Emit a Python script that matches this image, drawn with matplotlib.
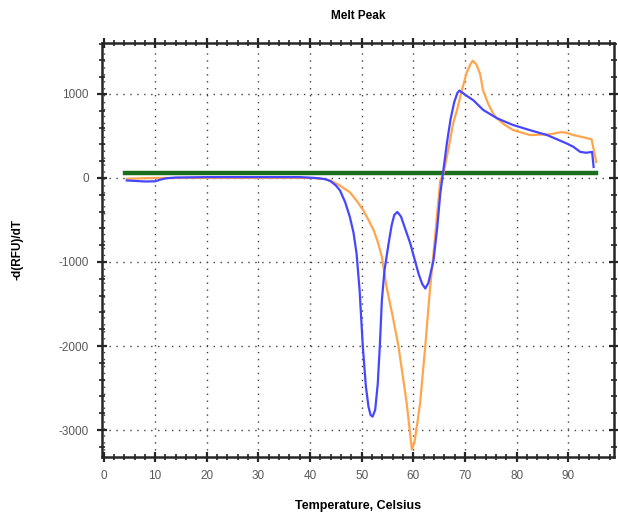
import numpy as np
import matplotlib
matplotlib.use("Agg")
import matplotlib.pyplot as plt
from matplotlib.ticker import MultipleLocator

plt.rcParams['font.family'] = ['Liberation Sans', 'DejaVu Sans']
plt.rcParams['axes.unicode_minus'] = False

# blue trace
blue_t = [4.5, 6, 8, 10, 11, 12, 14, 20, 30, 38, 41, 43, 44, 45, 45.8, 46.8, 47.7,
          48.4, 49.0, 49.6, 50.2, 50.8, 51.3, 51.7, 52.1, 52.6, 53.1, 53.5, 53.9,
          54.4, 55.2, 55.8, 56.3, 56.9, 57.6, 58.5, 59.4, 60.2, 61.0, 61.7, 62.3,
          62.9, 63.9, 64.6, 65.2, 65.8, 66.5, 67.2, 67.9, 68.5, 68.9, 69.6, 70.5,
          71.6, 73.5, 76.2, 79.3, 82.5, 85.9, 89.7, 91.0, 92.3, 93.5, 94.6, 94.9]
blue_v = [-30, -35, -42, -40, -20, -5, 5, 10, 10, 10, 0, -15, -40, -90, -150, -290, -465,
          -650, -900, -1350, -2000, -2480, -2720, -2820, -2840, -2760, -2450, -2000, -1450,
          -1100, -780, -560, -440, -405, -460, -620, -780, -960, -1140, -1260, -1315,
          -1250, -980, -600, -190, 90, 420, 700, 900, 1010, 1040, 1010, 970,
          925, 810, 710, 630, 570, 510, 410, 370, 310, 300, 310, 130]

# orange trace
orange_t = [4.5, 7, 10, 20, 30, 40, 42.5, 43.9, 45.5, 47.7, 49.0, 50.3, 51.3, 52.3,
            53.1, 53.9, 54.8, 56.0, 57.1, 58.0, 58.7, 59.2, 59.7, 60.2, 60.8, 61.3,
            62.3, 63.2, 64.2, 65.2, 65.8, 66.8, 67.7, 68.5, 69.2, 70.3, 71.0, 71.5,
            72.2, 72.9, 73.5, 74.5, 75.5, 76.2, 77.5, 79.3, 81.0, 82.6, 84.5, 86.5,
            88.5, 89.5, 91.0, 92.5, 94.5, 95.4]
orange_v = [-10, -5, 0, 0, 0, 0, -10, -30, -80, -170, -270, -385, -500, -620,
            -760, -940, -1295, -1650, -2000, -2380, -2680, -2950, -3230, -3150, -2900, -2680,
            -2000, -1335, -700, -30, 50, 350, 650, 820, 1000, 1250, 1350, 1395,
            1350, 1240, 1040, 880, 760, 710, 640, 570, 540, 510, 515, 520,
            545, 540, 510, 490, 460, 190]

# green baseline
green_t = [4.2, 95.3]
green_v = [56, 56]

fig = plt.figure(figsize=(6.18, 5.14), dpi=100)
ax = fig.add_axes([0.165, 0.111, 0.829, 0.806])

ax.plot(green_t, green_v, color='#1b6e1b', lw=3.2, zorder=3)
ax.plot(orange_t, orange_v, color='#ffa64d', lw=1.6, zorder=4)
ax.plot(blue_t, blue_v, color='#4646ff', lw=1.6, zorder=5)

ax.set_xlim(-0.3, 98.9)
ax.set_ylim(-3320, 1610)
ax.xaxis.set_major_locator(MultipleLocator(10))
ax.xaxis.set_minor_locator(MultipleLocator(2))
ax.yaxis.set_major_locator(MultipleLocator(1000))
ax.yaxis.set_minor_locator(MultipleLocator(200))

ax.grid(which='major', color='0.25', linestyle=(0, (1, 4)), lw=1.0)

for s in ax.spines.values():
    s.set_linewidth(1.8)
    s.set_color('0.15')
ax.tick_params(which='both', direction='inout', top=True, right=True,
               labelsize=8.5, labelcolor='0.35', color='0.15')
ax.tick_params(which='major', length=7, width=1.6, pad=6)
ax.tick_params(which='minor', length=4, width=1.2)

ax.set_title('Melt Peak', fontsize=8.5, fontweight='bold', pad=17)
ax.set_xlabel('Temperature, Celsius', fontsize=9, fontweight='bold', labelpad=13)
ax.set_ylabel('-d(RFU)/dT', fontsize=8.5, fontweight='bold', labelpad=25)

fig.savefig('out.png', dpi=100)
